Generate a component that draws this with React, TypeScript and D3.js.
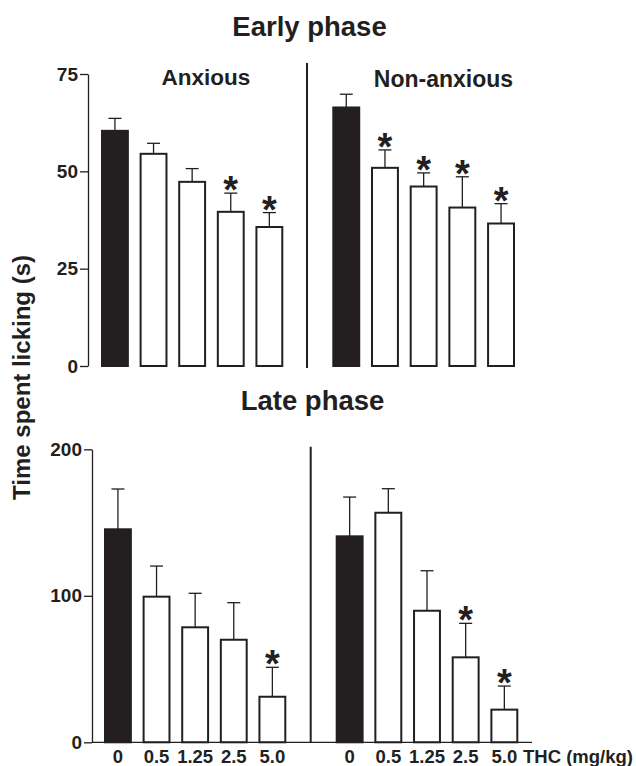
import React, { useEffect, useRef } from 'react';
import * as d3 from 'd3';

// THC dose groups (mg/kg)
const doses = ["0", "0.5", "1.25", "2.5", "5.0"];

// Early phase, time spent licking (s), mean and SEM
const earlyAnxiousMean = [60.4, 54.5, 47.3, 39.6, 35.7];
const earlyAnxiousSem = [3.2, 2.7, 3.4, 4.8, 3.7];
const earlyAnxiousSig = [false, false, false, true, true];

const earlyNonAnxiousMean = [66.4, 50.9, 46.1, 40.7, 36.6];
const earlyNonAnxiousSem = [3.4, 4.6, 3.5, 7.9, 5.1];
const earlyNonAnxiousSig = [false, true, true, true, true];

// Late phase
const lateAnxiousMean = [145.4, 99.4, 78.5, 70.0, 31.1];
const lateAnxiousSem = [27.5, 20.9, 23.2, 25.3, 20.1];
const lateAnxiousSig = [false, false, false, false, true];

const lateNonAnxiousMean = [140.6, 156.7, 89.8, 58.0, 22.3];
const lateNonAnxiousSem = [26.8, 16.4, 27.3, 23.2, 16.1];
const lateNonAnxiousSig = [false, false, false, true, true];

const earlyTicks = [0, 25, 50, 75];
const lateTicks = [0, 100, 200];

const INK = "#231f20";
const FONT = "'Liberation Sans', Arial, Helvetica, sans-serif";

const App = () => {
  const svgRef = useRef(null);
  const width = 636;
  const height = 766;

  useEffect(() => {
    const svg = d3.select(svgRef.current);
    svg.selectAll("*").remove();

    const drawBars = (g, x, y, mean, sem, sig) => {
      const data = doses.map((d, i) => ({ dose: d, mean: mean[i], sem: sem[i], sig: sig[i] }));
      const bw = x.bandwidth();

      // error bars (upper only)
      const err = g.append("g");
      data.forEach(d => {
        const cx = x(d.dose) + bw / 2;
        err.append("line")
          .attr("x1", cx).attr("x2", cx)
          .attr("y1", y(d.mean)).attr("y2", y(d.mean + d.sem))
          .attr("stroke", INK).attr("stroke-width", 1.3);
        err.append("line")
          .attr("x1", cx - 6.5).attr("x2", cx + 6.5)
          .attr("y1", y(d.mean + d.sem)).attr("y2", y(d.mean + d.sem))
          .attr("stroke", INK).attr("stroke-width", 1.3);
      });

      g.selectAll(".bar")
        .data(data)
        .enter().append("rect")
        .attr("x", d => x(d.dose))
        .attr("y", d => y(d.mean))
        .attr("width", bw)
        .attr("height", d => y(0) - y(d.mean))
        .attr("fill", (d, i) => i === 0 ? INK : "#fff")
        .attr("stroke", INK)
        .attr("stroke-width", 2);

      // significance asterisks
      g.selectAll(".star")
        .data(data.filter(d => d.sig))
        .enter().append("text")
        .attr("x", d => x(d.dose) + bw / 2)
        .attr("y", d => y(d.mean + d.sem) + 10)
        .attr("text-anchor", "middle")
        .style("font-family", FONT)
        .style("font-weight", "bold")
        .style("font-size", "38px")
        .style("fill", INK)
        .text("*");
    };

    const drawYAxis = (g, axisX, y, ticks) => {
      const ax = g.append("g")
        .attr("transform", `translate(${axisX},0)`)
        .call(d3.axisLeft(y).tickValues(ticks).tickSize(8).tickPadding(2).tickSizeOuter(0));
      ax.select(".domain").attr("stroke", INK).attr("stroke-width", 1.3);
      ax.selectAll(".tick line").attr("stroke", INK).attr("stroke-width", 1.3);
      ax.selectAll("text")
        .attr("fill", INK)
        .style("font-family", FONT)
        .style("font-weight", "bold")
        .style("font-size", "19px");
    };

    const band = (x0, x1) => d3.scaleBand().domain(doses).range([x0, x1]).paddingInner(0.33).paddingOuter(0);

    const text = (x, y, s, size) => svg.append("text")
      .attr("x", x).attr("y", y)
      .attr("text-anchor", "middle")
      .style("font-family", FONT)
      .style("font-weight", "bold")
      .style("font-size", size + "px")
      .style("fill", INK)
      .text(s);

    // ---- Early phase ----
    const yEarly = d3.scaleLinear().domain([0, 75]).range([366, 74]);
    const top = svg.append("g");
    drawYAxis(top, 88, yEarly, earlyTicks);
    drawBars(top, band(102, 282.3), yEarly, earlyAnxiousMean, earlyAnxiousSem, earlyAnxiousSig);
    drawBars(top, band(333.3, 514), yEarly, earlyNonAnxiousMean, earlyNonAnxiousSem, earlyNonAnxiousSig);
    top.append("line")
      .attr("x1", 307).attr("x2", 307).attr("y1", 63).attr("y2", 368)
      .attr("stroke", INK).attr("stroke-width", 2);

    text(309.5, 35.5, "Early phase", 27.5);
    text(206, 85, "Anxious", 22.5);
    text(443.5, 86.7, "Non-anxious", 23);

    // ---- Late phase ----
    const yLate = d3.scaleLinear().domain([0, 200]).range([742.3, 449.3]);
    const bottom = svg.append("g");
    const xLateA = band(105, 285.3);
    const xLateN = band(336.7, 517.3);
    drawYAxis(bottom, 92, yLate, lateTicks);
    drawBars(bottom, xLateA, yLate, lateAnxiousMean, lateAnxiousSem, lateAnxiousSig);
    drawBars(bottom, xLateN, yLate, lateNonAnxiousMean, lateNonAnxiousSem, lateNonAnxiousSig);
    bottom.append("line")
      .attr("x1", 92).attr("x2", 532).attr("y1", yLate(0)).attr("y2", yLate(0))
      .attr("stroke", INK).attr("stroke-width", 1.3);
    bottom.append("line")
      .attr("x1", 310.7).attr("x2", 310.7).attr("y1", 446.7).attr("y2", yLate(0))
      .attr("stroke", INK).attr("stroke-width", 2);

    [xLateA, xLateN].forEach(x => {
      doses.forEach(d => text(x(d) + x.bandwidth() / 2, 762.5, d, 18.5));
    });
    svg.append("text")
      .attr("x", 523).attr("y", 762.5)
      .style("font-family", FONT)
      .style("font-weight", "bold")
      .style("font-size", "18.5px")
      .style("fill", INK)
      .text("THC (mg/kg)");

    text(312.5, 410, "Late phase", 27.5);

    // shared y label
    svg.append("text")
      .attr("transform", "translate(30,377.5) rotate(-90)")
      .attr("text-anchor", "middle")
      .style("font-family", FONT)
      .style("font-weight", "bold")
      .style("font-size", "24px")
      .style("fill", INK)
      .text("Time spent licking (s)");
  }, []);

  return (
    <svg
      ref={svgRef}
      width={width}
      height={height}
      style={{ position: 'absolute', left: 0, top: 0, background: '#fff' }}
    ></svg>
  );
};

export default App;
